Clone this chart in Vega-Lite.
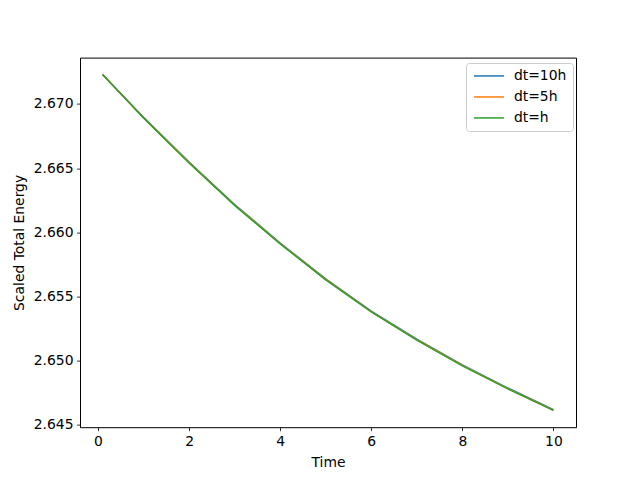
{
  "$schema": "https://vega.github.io/schema/vega-lite/v6.json",
  "width": 496,
  "height": 369.6,
  "autosize": {"type": "none"},
  "padding": {"left": 80, "top": 57.6, "right": 64, "bottom": 52.8},
  "background": "white",
  "config": {
    "font": "DejaVu Sans",
    "view": {"stroke": "black", "strokeWidth": 1},
    "axis": {
      "grid": false,
      "domain": false,
      "tickColor": "black",
      "tickSize": 3.5,
      "tickWidth": 0.8,
      "labelFont": "DejaVu Sans",
      "labelFontSize": 13.9,
      "labelColor": "black",
      "labelPadding": 3.5,
      "titleFont": "DejaVu Sans",
      "titleFontSize": 13.9,
      "titleFontWeight": "normal",
      "titleColor": "black"
    }
  },
  "data": {
    "values": [
      {"t": 0.1, "E": 2.67230, "s": "dt=10h"},
      {"t": 1, "E": 2.66897, "s": "dt=10h"},
      {"t": 2, "E": 2.66547, "s": "dt=10h"},
      {"t": 3, "E": 2.66217, "s": "dt=10h"},
      {"t": 4, "E": 2.65917, "s": "dt=10h"},
      {"t": 5, "E": 2.65637, "s": "dt=10h"},
      {"t": 6, "E": 2.65387, "s": "dt=10h"},
      {"t": 7, "E": 2.65167, "s": "dt=10h"},
      {"t": 8, "E": 2.64967, "s": "dt=10h"},
      {"t": 9, "E": 2.64787, "s": "dt=10h"},
      {"t": 10, "E": 2.64618, "s": "dt=10h"},
      {"t": 0.1, "E": 2.67230, "s": "dt=5h"},
      {"t": 1, "E": 2.66893, "s": "dt=5h"},
      {"t": 2, "E": 2.66543, "s": "dt=5h"},
      {"t": 3, "E": 2.66213, "s": "dt=5h"},
      {"t": 4, "E": 2.65913, "s": "dt=5h"},
      {"t": 5, "E": 2.65633, "s": "dt=5h"},
      {"t": 6, "E": 2.65383, "s": "dt=5h"},
      {"t": 7, "E": 2.65163, "s": "dt=5h"},
      {"t": 8, "E": 2.64963, "s": "dt=5h"},
      {"t": 9, "E": 2.64783, "s": "dt=5h"},
      {"t": 10, "E": 2.64614, "s": "dt=5h"},
      {"t": 0.1, "E": 2.67230, "s": "dt=h"},
      {"t": 1, "E": 2.66890, "s": "dt=h"},
      {"t": 2, "E": 2.66540, "s": "dt=h"},
      {"t": 3, "E": 2.66210, "s": "dt=h"},
      {"t": 4, "E": 2.65910, "s": "dt=h"},
      {"t": 5, "E": 2.65630, "s": "dt=h"},
      {"t": 6, "E": 2.65380, "s": "dt=h"},
      {"t": 7, "E": 2.65160, "s": "dt=h"},
      {"t": 8, "E": 2.64960, "s": "dt=h"},
      {"t": 9, "E": 2.64780, "s": "dt=h"},
      {"t": 10, "E": 2.64613, "s": "dt=h"}
    ]
  },
  "mark": {"type": "line", "strokeWidth": 1.5, "clip": true},
  "encoding": {
    "x": {
      "field": "t",
      "type": "quantitative",
      "title": "Time",
      "scale": {"domain": [-0.395, 10.495], "nice": false, "zero": false},
      "axis": {"values": [0, 2, 4, 6, 8, 10], "format": "d", "titlePadding": 7}
    },
    "y": {
      "field": "E",
      "type": "quantitative",
      "title": "Scaled Total Energy",
      "scale": {"domain": [2.64482, 2.67361], "nice": false, "zero": false},
      "axis": {"values": [2.645, 2.65, 2.655, 2.66, 2.665, 2.67], "format": ".3f", "titlePadding": 7}
    },
    "color": {
      "field": "s",
      "type": "nominal",
      "scale": {"domain": ["dt=10h", "dt=5h", "dt=h"], "range": ["#1f77b4", "#ff7f0e", "#2ca02c"]},
      "legend": {
        "title": null,
        "orient": "none",
        "legendX": 386,
        "legendY": 5.4,
        "symbolType": "M-1,0L5,0",
        "symbolSize": 100,
        "symbolStrokeWidth": 1.5,
        "labelFontSize": 13.9,
        "labelColor": "black",
        "labelFont": "DejaVu Sans",
        "labelOffset": 28,
        "rowPadding": 6,
        "padding": 6,
        "fillColor": "white",
        "strokeColor": "#cccccc",
        "cornerRadius": 3
      }
    },
    "order": {"field": "t", "type": "quantitative"}
  }
}
